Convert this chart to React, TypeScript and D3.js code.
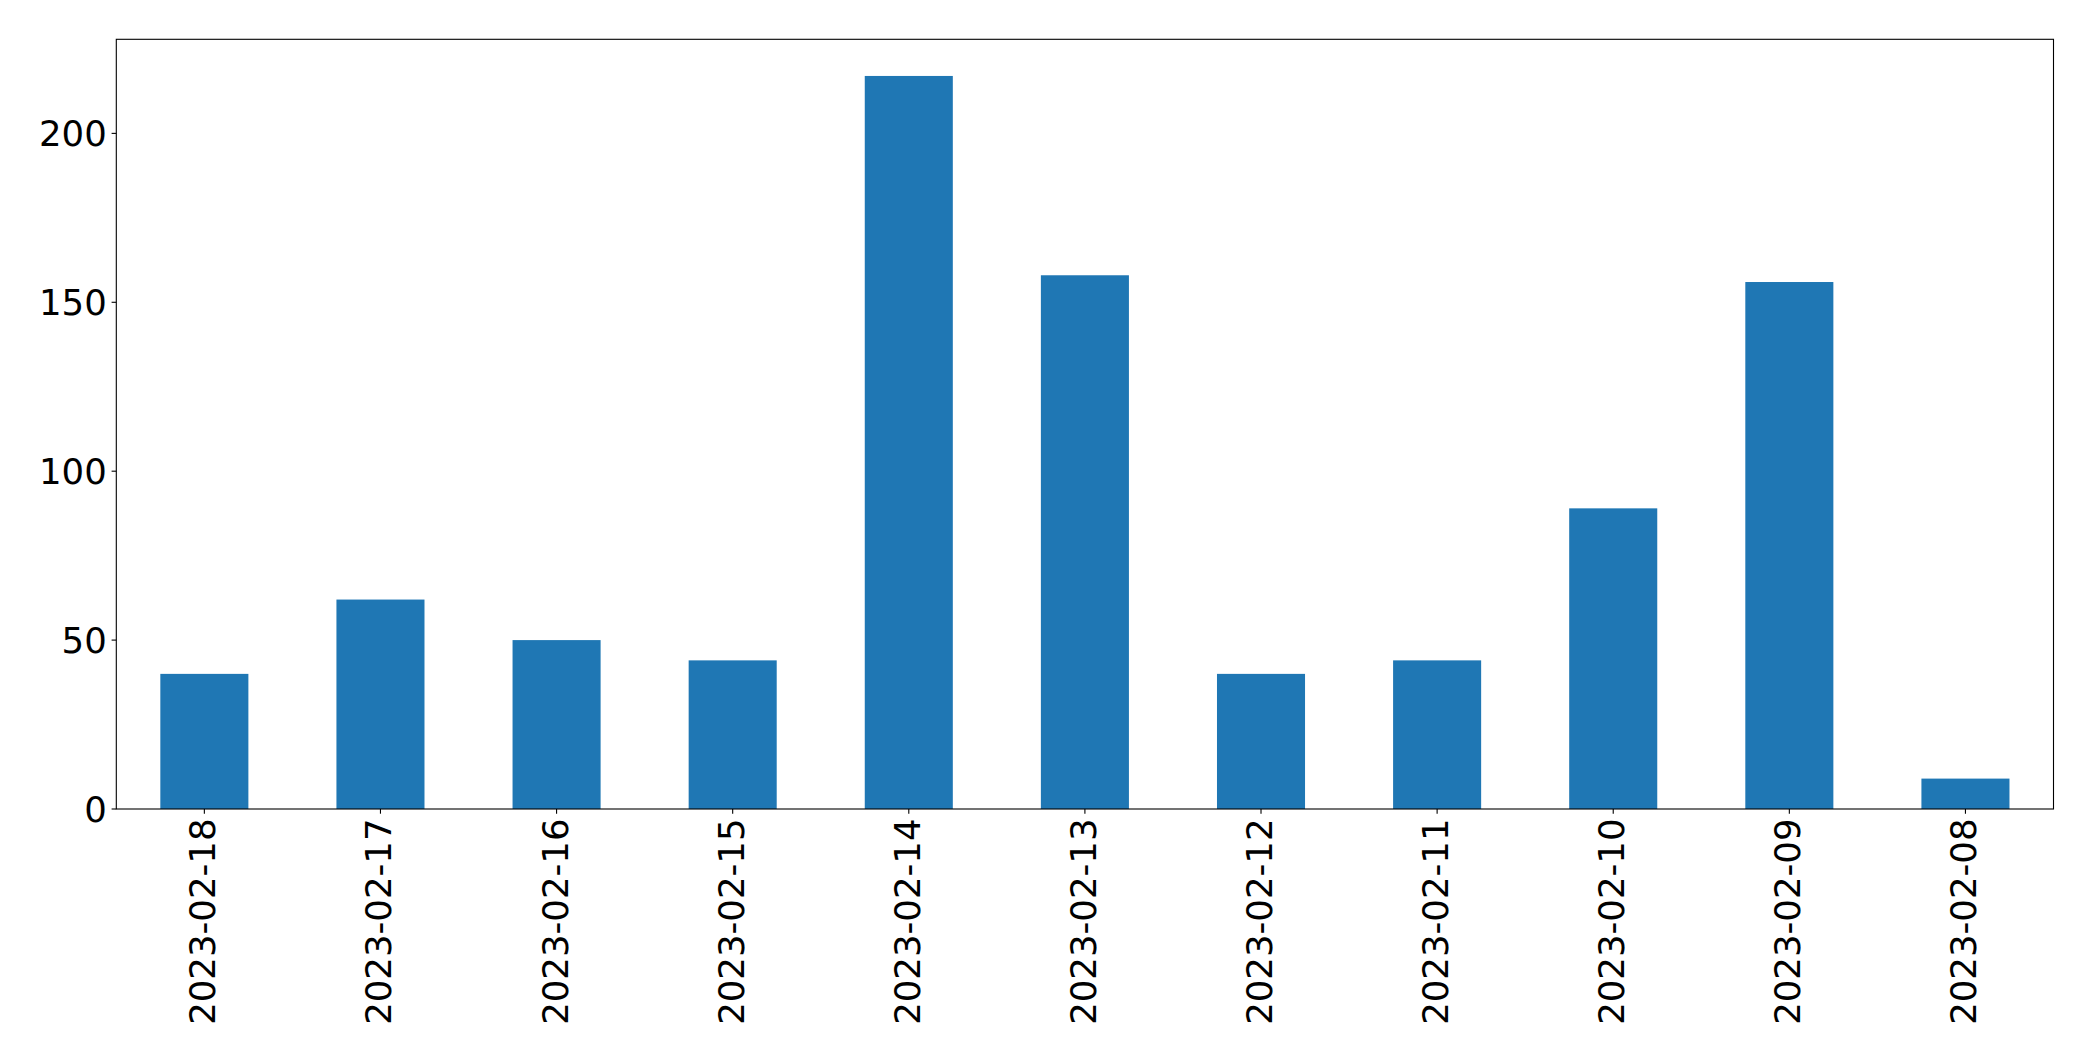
import React from "react";
import * as d3 from "d3";

const categories = [
  "2023-02-18", "2023-02-17", "2023-02-16", "2023-02-15", "2023-02-14", "2023-02-13",
  "2023-02-12", "2023-02-11", "2023-02-10", "2023-02-09", "2023-02-08",
];
const values = [40, 62, 50, 44, 217, 158, 40, 44, 89, 156, 9];
const yTicks = [0, 50, 100, 150, 200];

const W = 2093;
const H = 1061;
const left = 116.3;
const right = 2053.5;
const top = 39.3;
const bottom = 809;
const FS = 35.5;
const FONT = "'DejaVu Sans', sans-serif";

export default function App() {
  const x = d3.scaleLinear().domain([-0.5, categories.length - 0.5]).range([left, right]);
  const y = d3.scaleLinear().domain([0, d3.max(values)! * 1.05]).range([bottom, top]);
  const bw = x(0.25) - x(-0.25);
  return (
    <svg width={W} height={H} style={{ position: "absolute", left: 0, top: 0, background: "#fff" }}>
      <rect x={0} y={0} width={W} height={H} fill="#fff" />
      {values.map((v, i) => (
        <rect key={i} x={x(i) - bw / 2} y={y(v)} width={bw} height={y(0) - y(v)} fill="#1f77b4" />
      ))}
      <rect x={left} y={top} width={right - left} height={bottom - top} fill="none" stroke="#000" strokeWidth={1.1} />
      {yTicks.map((t) => (
        <g key={t}>
          <line x1={left - 4.7} x2={left} y1={y(t)} y2={y(t)} stroke="#000" strokeWidth={1.1} />
          <text x={left - 9.5} y={y(t) + 12.8} textAnchor="end" fontSize={FS} fontFamily={FONT} fill="#000">
            {t}
          </text>
        </g>
      ))}
      {categories.map((c, i) => (
        <g key={c}>
          <line x1={x(i)} x2={x(i)} y1={bottom} y2={bottom + 4.7} stroke="#000" strokeWidth={1.1} />
          <text
            transform={`translate(${x(i) + 11},${bottom + 9.5}) rotate(-90)`}
            textAnchor="end"
            fontSize={FS}
            fontFamily={FONT}
            fill="#000"
          >
            {c}
          </text>
        </g>
      ))}
    </svg>
  );
}
